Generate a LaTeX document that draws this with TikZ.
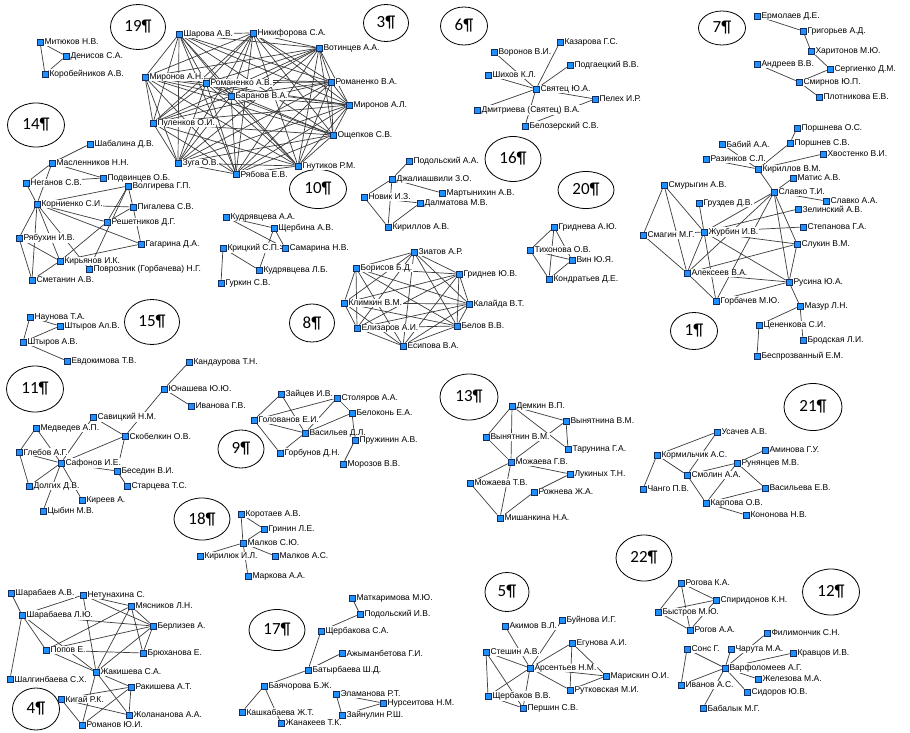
\documentclass[tikz,border=0pt]{standalone}
\usepackage{fontspec}
\usepackage{tikz}
\usetikzlibrary{backgrounds, shapes.geometric}
\newfontfamily\lblfont{Liberation Sans}
\newfontfamily\grpfont{Carlito}
\definecolor{nodeblue}{RGB}{30,144,255}
\definecolor{nodeedge}{RGB}{20,45,95}
\definecolor{linkgray}{RGB}{60,60,60}
\tikzset{
  lbl/.style={font=\lblfont\fontsize{8.5}{10}\selectfont, fill=white, inner sep=0.6pt, label distance=0.4pt},
  v/.style={rectangle, draw=nodeedge, line width=0.6pt, fill=nodeblue, minimum size=6pt,
            inner sep=0pt, label={[lbl]right:#1}},
  grp/.style={ellipse, draw=black, line width=0.8pt, inner sep=0pt,
              font=\grpfont\fontsize{17}{20}\selectfont},
  link/.style={draw=linkgray, line width=0.7pt},
}

\begin{document}
\begin{tikzpicture}[x=1pt, y=-1pt]
\useasboundingbox (0,0) rectangle (910,733);

% группы
\node[grp, minimum width=55, minimum height=45] (g19) at (138,27) {19¶};
\node[grp, minimum width=45, minimum height=37] (g3) at (386,23) {3¶};
\node[grp, minimum width=47, minimum height=38] (g6) at (464,26) {6¶};
\node[grp, minimum width=47, minimum height=34] (g7) at (722,28) {7¶};
\node[grp, minimum width=57, minimum height=44] (g14) at (36,125) {14¶};
\node[grp, minimum width=57, minimum height=39] (g10) at (318,189) {10¶};
\node[grp, minimum width=56, minimum height=45] (g16) at (513,159) {16¶};
\node[grp, minimum width=56, minimum height=37] (g20) at (586,190) {20¶};
\node[grp, minimum width=55, minimum height=45] (g15) at (152,322) {15¶};
\node[grp, minimum width=45, minimum height=38] (g8) at (312,323) {8¶};
\node[grp, minimum width=57, minimum height=46] (g11) at (35,389) {11¶};
\node[grp, minimum width=58, minimum height=46] (g13) at (469,397) {13¶};
\node[grp, minimum width=46, minimum height=38] (g9) at (241,449) {9¶};
\node[grp, minimum width=47, minimum height=37] (g1) at (694,331) {1¶};
\node[grp, minimum width=58, minimum height=47] (g21) at (813,407) {21¶};
\node[grp, minimum width=56, minimum height=42] (g18) at (202,519) {18¶};
\node[grp, minimum width=47, minimum height=42] (g4) at (36,709) {4¶};
\node[grp, minimum width=56, minimum height=41] (g17) at (277,630) {17¶};
\node[grp, minimum width=44, minimum height=39] (g5) at (507,592) {5¶};
\node[grp, minimum width=56, minimum height=46] (g22) at (644,558) {22¶};
\node[grp, minimum width=57, minimum height=46] (g12) at (831,592) {12¶};

% Митюков
\node[v={Митюков Н.В.}] (mitk) at (40,42) {};
\node[v={Денисов С.А.}] (denis) at (66,56) {};
\node[v={Коробейников А.В.}] (korob) at (45,74) {};

% 19 / 3
\node[v={Шарова А.В.}] (sharova) at (179,34) {};
\node[v={Никифорова С.А.}] (nikif) at (253,33) {};
\node[v={Вотинцев А.А.}] (votin) at (319,48) {};
\node[v={Миронов А.Н.}] (mironAN) at (145,77) {};
\node[v={Романенко А.В.}] (romAV) at (206,83) {};
\node[v={Романенко В.А.}] (romVA) at (331,82) {};
\node[v={Баранов В.А.}] (baranov) at (231,96) {};
\node[v={Миронов А.Л.}] (mironAL) at (349,105) {};
\node[v={Пуленков О.И.}] (pulenk) at (153,123) {};
\node[v={Ощепков С.В.}] (oshchep) at (333,135) {};
\node[v={Зуга О.В.}] (zuga) at (178,163) {};
\node[v={Гнутиков Р.М.}] (gnutik) at (298,166) {};
\node[v={Рябова Е.В.}] (ryabova) at (236,174) {};

% 14
\node[v={Шабалина Д.В.}] (shabal) at (90,144) {};
\node[v={Масленников Н.Н.}] (maslen) at (52,163) {};
\node[v={Подвинцев О.Б.}] (podvin) at (103,178) {};
\node[v={Неганов С.В.}] (neganov) at (26,183) {};
\node[v={Волгирева Г.П.}] (volgir) at (128,186) {};
\node[v={Корниенко С.И.}] (kornien) at (37,204) {};
\node[v={Пигалева С.В.}] (pigal) at (133,207) {};
\node[v={Решетников Д.Г.}] (reshet) at (107,222) {};
\node[v={Рябухин И.В.}] (ryabukh) at (19,238) {};
\node[v={Гагарина Д.А.}] (gagar) at (141,244) {};
\node[v={Кирьянов И.К.}] (kiryan) at (60,261) {};
\node[v={Поврозник (Горбачева) Н.Г.}] (povroz) at (89,269) {};
\node[v={Сметанин А.В.}] (smetan) at (32,280) {};

% 16
\node[v={Подольский А.А.}] (podolAA) at (409,161) {};
\node[v={Джалиашвили З.О.}] (dzhal) at (392,179) {};
\node[v={Новик И.З.}] (novik) at (364,197) {};
\node[v={Мартынихин А.В.}] (martyn) at (442,193) {};
\node[v={Далматова М.В.}] (dalmat) at (420,203) {};
\node[v={Кириллов А.В.}] (kirilAV) at (388,227) {};

% 10
\node[v={Кудрявцева А.А.}] (kudrAA) at (226,217) {};
\node[v={Щербина А.В.}] (shcherb) at (274,228) {};
\node[v={Крицкий С.П.}] (kritsk) at (223,248) {};
\node[v={Самарина Н.В.}] (samar) at (285,248) {};
\node[v={Кудрявцева Л.Б.}] (kudrLB) at (259,270) {};
\node[v={Гуркин С.В.}] (gurkin) at (221,283) {};

% 6
\node[v={Казарова Г.С.}] (kazar) at (560,42) {};
\node[v={Воронов В.И.}] (voron) at (494,52) {};
\node[v={Подгаецкий В.В.}] (podgaets) at (570,65) {};
\node[v={Шихов К.Л.}] (shikhov) at (488,75) {};
\node[v={Святец Ю.А.}] (svyatets) at (536,89) {};
\node[v={Пелех И.Р.}] (pelekh) at (595,99) {};
\node[v={Дмитриева (Святец) В.А.}] (dmitr) at (477,110) {};
\node[v={Белозерский С.В.}] (belozer) at (525,126) {};

% 7
\node[v={Ермолаев Д.Е.}] (ermol) at (757,16) {};
\node[v={Григорьев А.Д.}] (grigor) at (803,31) {};
\node[v={Харитонов М.Ю.}] (kharit) at (811,51) {};
\node[v={Андреев В.В.}] (andreev) at (757,64) {};
\node[v={Сергиенко Д.М.}] (sergien) at (830,69) {};
\node[v={Смирнов Ю.П.}] (smirnov) at (799,82) {};
\node[v={Плотникова Е.В.}] (plotnik) at (819,97) {};

% 1
\node[v={Поршнева О.С.}] (porshO) at (797,128) {};
\node[v={Бабий А.А.}] (babiy) at (722,144) {};
\node[v={Поршнев С.В.}] (porshS) at (790,143) {};
\node[v={Разинков С.Л.}] (razink) at (706,159) {};
\node[v={Хвостенко В.И.}] (khvost) at (823,154) {};
\node[v={Кириллов В.М.}] (kirilVM) at (758,169) {};
\node[v={Матис А.В.}] (matis) at (793,178) {};
\node[v={Смурыгин А.В.}] (smuryg) at (664,185) {};
\node[v={Славко Т.И.}] (slavTI) at (774,192) {};
\node[v={Славко А.А.}] (slavAA) at (826,201) {};
\node[v={Груздев Д.В.}] (gruzd) at (699,203) {};
\node[v={Зелинский А.В.}] (zelin) at (798,209) {};
\node[v={Смагин М.Г.}] (smagin) at (643,235) {};
\node[v={Журбин И.В.}] (zhurb) at (704,232) {};
\node[v={Степанова Г.А.}] (stepan) at (803,227) {};
\node[v={Слукин В.М.}] (slukin) at (797,244) {};
\node[v={Алексеев В.А.}] (alekseev) at (687,273) {};
\node[v={Русина Ю.А.}] (rusina) at (789,282) {};
\node[v={Горбачев М.Ю.}] (gorbach) at (716,301) {};
\node[v={Мазур Л.Н.}] (mazur) at (800,306) {};
\node[v={Цененкова С.И.}] (tsenenk) at (759,325) {};
\node[v={Бродская Л.И.}] (brodsk) at (803,340) {};
\node[v={Беспрозванный Е.М.}] (besproz) at (757,356) {};

% 20
\node[v={Гриднева А.Ю.}] (gridnAYu) at (554,227) {};
\node[v={Тихонова О.В.}] (tikhon) at (530,250) {};
\node[v={Вин Ю.Я.}] (vin) at (572,260) {};
\node[v={Кондратьев Д.Е.}] (kondrat) at (549,279) {};

% 8
\node[v={Зиатов А.Р.}] (ziatov) at (414,252) {};
\node[v={Борисов Б.Д.}] (borisov) at (356,268) {};
\node[v={Гриднев Ю.В.}] (gridnYuV) at (459,274) {};
\node[v={Климкин В.М.}] (klimkin) at (344,303) {};
\node[v={Калайда В.Т.}] (kalayda) at (469,304) {};
\node[v={Елизаров А.И.}] (elizar) at (357,328) {};
\node[v={Белов В.В.}] (belov) at (457,326) {};
\node[v={Есипова В.А.}] (esipova) at (403,346) {};

% 15
\node[v={Наунова Т.А.}] (naunova) at (30,317) {};
\node[v={Штыров Ал.В.}] (shtyrAlV) at (60,326) {};
\node[v={Штыров А.В.}] (shtyrAV) at (23,342) {};
\node[v={Евдокимова Т.В.}] (evdok) at (67,361) {};

% 11
\node[v={Кандаурова Т.Н.}] (kandaur) at (189,362) {};
\node[v={Юнашева Ю.Ю.}] (yunash) at (164,389) {};
\node[v={Иванова Г.В.}] (ivanGV) at (191,406) {};
\node[v={Савицкий Н.М.}] (savits) at (93,417) {};
\node[v={Медведев А.П.}] (medved) at (36,428) {};
\node[v={Скобелкин О.В.}] (skobel) at (125,436) {};
\node[v={Глебов А.Г.}] (glebov) at (19,452) {};
\node[v={Сафонов И.Е.}] (safonov) at (61,463) {};
\node[v={Беседин В.И.}] (besedin) at (117,471) {};
\node[v={Долгих Д.В.}] (dolgikh) at (29,486) {};
\node[v={Старцева Т.С.}] (startsev) at (127,486) {};
\node[v={Киреев А.}] (kireev) at (82,500) {};
\node[v={Цыбин М.В.}] (tsybin) at (43,511) {};

% 9
\node[v={Зайцев И.В.}] (zaitsev) at (281,394) {};
\node[v={Столяров А.А.}] (stolyar) at (337,398) {};
\node[v={Голованов Е.И.}] (golovan) at (254,420) {};
\node[v={Белоконь Е.А.}] (belokon) at (352,413) {};
\node[v={Васильев Д.Л.}] (vasilDL) at (305,433) {};
\node[v={Пружинин А.В.}] (pruzhin) at (355,440) {};
\node[v={Горбунов Д.Н.}] (gorbun) at (280,453) {};
\node[v={Морозов В.В.}] (morozov) at (343,464) {};

% 13
\node[v={Демкин В.П.}] (demkin) at (512,406) {};
\node[v={Вынятнина В.М.}] (vynyatna) at (566,421) {};
\node[v={Вынятнин В.М.}] (vynyatn) at (486,437) {};
\node[v={Тарунина Г.А.}] (tarunina) at (568,449) {};
\node[v={Можаева Г.В.}] (mozhGV) at (511,462) {};
\node[v={Лукиных Т.Н.}] (lukinykh) at (570,474) {};
\node[v={Можаева Т.В.}] (mozhTV) at (470,483) {};
\node[v={Рожнева Ж.А.}] (rozhneva) at (534,492) {};
\node[v={Мишанкина Н.А.}] (mishank) at (500,518) {};

% 21
\node[v={Усачев А.В.}] (usachev) at (717,432) {};
\node[v={Кормильчик А.С.}] (kormil) at (657,455) {};
\node[v={Аминова Г.У.}] (aminova) at (765,450) {};
\node[v={Рунянцев М.В.}] (runyants) at (737,463) {};
\node[v={Смолин А.А.}] (smolin) at (687,475) {};
\node[v={Чанго П.В.}] (chango) at (643,489) {};
\node[v={Васильева Е.В.}] (vasilEV) at (765,488) {};
\node[v={Карпова О.В.}] (karpova) at (706,503) {};
\node[v={Кононова Н.В.}] (kononova) at (746,515) {};

% 18
\node[v={Коротаев А.В.}] (korotaev) at (241,514) {};
\node[v={Гринин Л.Е.}] (grinin) at (264,529) {};
\node[v={Малков С.Ю.}] (malkovSYu) at (243,543) {};
\node[v={Кирилюк И.Л.}] (kirilyuk) at (200,556) {};
\node[v={Малков А.С.}] (malkovAS) at (275,556) {};
\node[v={Маркова А.А.}] (markova) at (248,576) {};

% 4
\node[v={Шарабаев А.В.}] (sharabAV) at (11,593) {};
\node[v={Нетунахина С.}] (netun) at (83,595) {};
\node[v={Мясников Л.Н.}] (myasn) at (131,606) {};
\node[v={Шарабаева Л.Ю.}] (sharabLYu) at (22,615) {};
\node[v={Берлизев А.}] (berliz) at (153,626) {};
\node[v={Попов Е.}] (popov) at (46,650) {};
\node[v={Брюханова Е.}] (bryukh) at (143,653) {};
\node[v={Жакишева С.А.}] (zhakish) at (96,672) {};
\node[v={Шалгинбаева С.Х.}] (shalgin) at (10,679) {};
\node[v={Ракишева А.Т.}] (rakish) at (131,687) {};
\node[v={Кигай Р.К.}] (kigay) at (61,699) {};
\node[v={Жолананова А.А.}] (zholan) at (129,715) {};
\node[v={Романов Ю.И.}] (romanov) at (82,725) {};

% 17
\node[v={Маткаримова М.Ю.}] (matkar) at (352,598) {};
\node[v={Подольский И.В.}] (podolIV) at (360,614) {};
\node[v={Щербакова С.А.}] (shcherbSA) at (321,631) {};
\node[v={Ажыманбетова Г.И.}] (azhym) at (342,653) {};
\node[v={Батырбаева Ш.Д.}] (batyrb) at (308,670) {};
\node[v={Баячорова Б.Ж.}] (bayach) at (264,686) {};
\node[v={Эламанова Р.Т.}] (elaman) at (336,694) {};
\node[v={Нурсеитова Н.М.}] (nurseit) at (383,703) {};
\node[v={Кашкабаева Ж.Т.}] (kashk) at (242,712) {};
\node[v={Зайнулин Р.Ш.}] (zaynul) at (342,715) {};
\node[v={Жанакеев Т.К.}] (zhanak) at (281,723) {};

% 5
\node[v={Акимов В.Л.}] (akimov) at (505,626) {};
\node[v={Буйнова И.Г.}] (buynova) at (562,620) {};
\node[v={Егунова А.И.}] (egunova) at (572,643) {};
\node[v={Стешин А.В.}] (steshin) at (486,652) {};
\node[v={Арсентьев Н.М.}] (arsent) at (530,668) {};
\node[v={Марискин О.И.}] (marisk) at (606,676) {};
\node[v={Рутковская М.И.}] (rutkov) at (570,690) {};
\node[v={Щербаков В.В.}] (shcherbVV) at (488,696) {};
\node[v={Першин С.В.}] (pershin) at (523,708) {};

% 22 / 12
\node[v={Рогова К.А.}] (rogovaKA) at (681,583) {};
\node[v={Спиридонов К.Н.}] (spirid) at (716,600) {};
\node[v={Быстров М.Ю.}] (bystrov) at (658,612) {};
\node[v={Рогов А.А.}] (rogovAA) at (690,630) {};
\node[v={Филимончик С.Н.}] (filim) at (767,633) {};
\node[v={Сонс Г.}] (sons) at (687,649) {};
\node[v={Чарута М.А.}] (charuta) at (731,649) {};
\node[v={Кравцов И.В.}] (kravts) at (793,653) {};
\node[v={Варфоломеев А.Г.}] (varfol) at (725,668) {};
\node[v={Иванов А.С.}] (ivanAS) at (681,685) {};
\node[v={Железова М.А.}] (zhelez) at (758,679) {};
\node[v={Сидоров Ю.В.}] (sidorov) at (747,692) {};
\node[v={Бабалык М.Г.}] (babalyk) at (703,708) {};

\begin{scope}[on background layer]
\fill[white] (0,0) rectangle (910,733);
% плотные группы: каждый с каждым
\foreach \a [count=\i] in {sharova,nikif,votin,mironAN,romAV,romVA,baranov,mironAL,pulenk,oshchep,zuga,gnutik,ryabova}
  \foreach \b [count=\j] in {sharova,nikif,votin,mironAN,romAV,romVA,baranov,mironAL,pulenk,oshchep,zuga,gnutik,ryabova}
    {\ifnum\j>\i \draw[link] (\a) -- (\b);\fi}
\foreach \a [count=\i] in {ziatov,borisov,gridnYuV,klimkin,kalayda,elizar,belov,esipova}
  \foreach \b [count=\j] in {ziatov,borisov,gridnYuV,klimkin,kalayda,elizar,belov,esipova}
    {\ifnum\j>\i \draw[link] (\a) -- (\b);\fi}
\foreach \a [count=\i] in {gridnAYu,tikhon,vin,kondrat}
  \foreach \b [count=\j] in {gridnAYu,tikhon,vin,kondrat}
    {\ifnum\j>\i \draw[link] (\a) -- (\b);\fi}

% остальные связи
\foreach \a/\b in {mitk/denis, denis/korob, mitk/korob,
  shabal/maslen, maslen/neganov, maslen/kornien, maslen/podvin, neganov/podvin, neganov/kornien,
  kornien/volgir, kornien/pigal, kornien/reshet, kornien/gagar, kornien/ryabukh, kornien/kiryan,
  kornien/smetan, kornien/povroz, volgir/pigal, volgir/reshet, pigal/reshet, volgir/povroz, pigal/gagar,
  ryabukh/smetan, ryabukh/kiryan, kiryan/smetan, kiryan/gagar, kiryan/reshet,
  podolAA/dzhal, dzhal/novik, dzhal/martyn, dzhal/kirilAV, novik/dalmat, novik/kirilAV, dalmat/kirilAV,
  kudrAA/shcherb, kudrAA/samar, kritsk/samar, kritsk/kudrLB, kritsk/gurkin, shcherb/kudrLB, shcherb/samar,
  svyatets/kazar, svyatets/voron, svyatets/podgaets, svyatets/shikhov, svyatets/pelekh,
  svyatets/dmitr, svyatets/belozer, belozer/pelekh,
  ermol/grigor, grigor/kharit, kharit/sergien, sergien/smirnov, andreev/smirnov, smirnov/plotnik,
  porshO/porshS, porshS/kirilVM, babiy/kirilVM, razink/kirilVM, khvost/kirilVM, kirilVM/slavTI,
  matis/slavTI, slavTI/slavAA, slavTI/zhurb, slavTI/alekseev, slavTI/gorbach, slavTI/slukin, slavTI/rusina,
  zelin/zhurb, stepan/zhurb, zhurb/slukin, gruzd/zhurb,
  smuryg/smagin, smuryg/zhurb, smuryg/alekseev, smagin/zhurb, smagin/alekseev,
  zhurb/alekseev, zhurb/gorbach, zhurb/rusina, alekseev/gorbach, alekseev/rusina, gorbach/rusina,
  slukin/rusina, alekseev/slukin, rusina/mazur, mazur/tsenenk, mazur/brodsk, tsenenk/besproz,
  naunova/shtyrAlV, naunova/shtyrAV, shtyrAV/shtyrAlV, shtyrAV/evdok,
  kandaur/yunash, yunash/ivanGV, yunash/skobel, savits/skobel, skobel/safonov, skobel/besedin,
  medved/glebov, medved/safonov, safonov/savits, glebov/safonov, glebov/dolgikh, safonov/besedin,
  besedin/startsev, safonov/dolgikh, safonov/kireev, safonov/tsybin,
  zaitsev/golovan, zaitsev/vasilDL, golovan/stolyar, golovan/vasilDL, golovan/gorbun, gorbun/vasilDL,
  stolyar/belokon, stolyar/vasilDL, belokon/vasilDL, belokon/pruzhin, pruzhin/morozov,
  demkin/vynyatna, demkin/vynyatn, demkin/mozhGV, demkin/tarunina, vynyatna/tarunina, vynyatna/mozhGV,
  vynyatn/mozhGV, mozhGV/lukinykh, mozhGV/mozhTV, mozhGV/mishank, mozhTV/mishank, mishank/rozhneva,
  lukinykh/rozhneva,
  usachev/kormil, usachev/smolin, kormil/chango, kormil/smolin, smolin/runyants, runyants/aminova,
  runyants/vasilEV, runyants/karpova, smolin/karpova, karpova/kononova, karpova/vasilEV,
  korotaev/grinin, korotaev/malkovSYu, malkovSYu/grinin, malkovSYu/kirilyuk, malkovSYu/malkovAS,
  malkovSYu/markova,
  sharabAV/sharabLYu, sharabLYu/shalgin, sharabLYu/netun, sharabLYu/popov, sharabLYu/zhakish,
  sharabLYu/berliz, netun/myasn, netun/berliz, netun/zhakish, myasn/berliz, myasn/bryukh,
  myasn/zhakish, myasn/popov, berliz/popov, berliz/zhakish, berliz/bryukh, popov/bryukh,
  popov/zhakish, zhakish/rakish, zhakish/zholan, zhakish/romanov, kigay/romanov, kigay/zholan,
  rakish/zholan, rakish/romanov, kigay/rakish,
  matkar/podolIV, podolIV/shcherbSA, shcherbSA/batyrb, azhym/batyrb, batyrb/bayach, bayach/kashk,
  bayach/zhanak, elaman/nurseit, elaman/zaynul, zaynul/nurseit,
  akimov/arsent, buynova/arsent, egunova/arsent, egunova/marisk, egunova/rutkov, steshin/arsent,
  steshin/shcherbVV, steshin/pershin, arsent/marisk, arsent/rutkov, arsent/shcherbVV, arsent/pershin,
  shcherbVV/pershin, rutkov/marisk,
  rogovaKA/bystrov, rogovaKA/spirid, rogovaKA/rogovAA, bystrov/spirid, bystrov/rogovAA, spirid/rogovAA,
  sons/ivanAS, sons/varfol, charuta/varfol, filim/varfol, kravts/varfol, varfol/zhelez,
  varfol/sidorov, varfol/ivanAS, babalyk/varfol}
  \draw[link] (\a) -- (\b);
\end{scope}
\end{tikzpicture}
\end{document}
